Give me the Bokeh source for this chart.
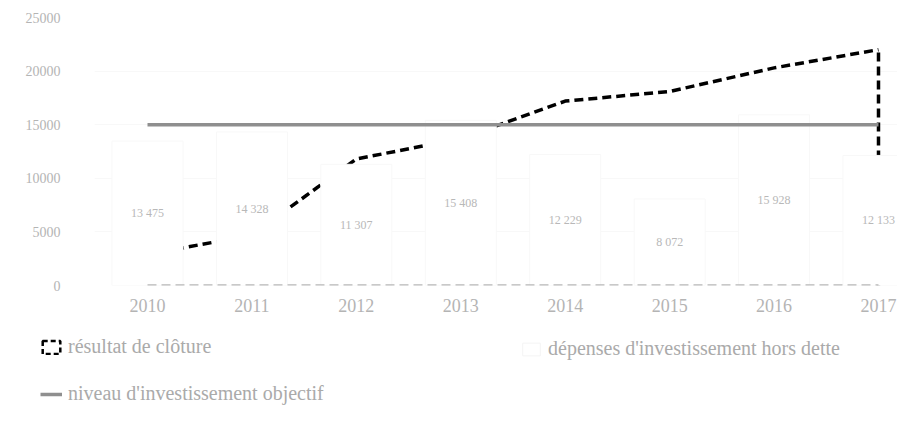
from bokeh.plotting import figure
from bokeh.layouts import column
from bokeh.models import ColumnDataSource, Range1d, FixedTicker, Legend, LegendItem, LabelSet
from bokeh.embed import file_html
from bokeh.resources import INLINE
from bokeh.core.properties import value

# ---- data ----
years = [2010, 2011, 2012, 2013, 2014, 2015, 2016, 2017]
year_labels = ["2010", "2011", "2012", "2013", "2014", "2015", "2016", "2017"]
depenses = [13475, 14328, 11307, 15408, 12229, 8072, 15928, 12133]
depenses_labels = ["13 475", "14 328", "11 307", "15 408", "12 229", "8 072", "15 928", "12 133"]
resultat = [2900, 4700, 11800, 13700, 17200, 18100, 20300, 22000]
objectif = [15000, 15000, 15000, 15000, 15000, 15000, 15000, 15000]
y_ticks = [0, 5000, 10000, 15000, 20000, 25000]
series_names = ["résultat de clôture", "dépenses d'investissement hors dette",
                "niveau d'investissement objectif"]

FONT = "Liberation Serif"
TXT = "#b4b4b4"
DASH = "9 5"

p = figure(width=897, height=318, output_backend="svg", toolbar_location=None,
           x_range=Range1d(2009.4925, 2017.182), y_range=Range1d(0, 25000),
           min_border_left=94, min_border_right=0, min_border_top=17, min_border_bottom=33)
p.frame_align = False
p.outline_line_color = None
p.xgrid.grid_line_color = None
p.ygrid.grid_line_color = "#f8f8f8"
p.ygrid.ticker = FixedTicker(ticks=y_ticks)

p.xaxis.ticker = FixedTicker(ticks=years)
p.xaxis.major_label_overrides = {y: l for y, l in zip(years, year_labels)}
p.yaxis.ticker = FixedTicker(ticks=y_ticks)
for ax in (p.xaxis, p.yaxis):
    ax.axis_line_color = None
    ax.major_tick_line_color = None
    ax.minor_tick_line_color = None
    ax.major_label_text_color = TXT
    ax.major_label_text_font = FONT
p.xaxis.major_label_text_font_size = "18px"
p.yaxis.major_label_text_font_size = "14px"
p.xaxis.major_label_standoff = 7
p.yaxis.major_label_standoff = 28

src = ColumnDataSource(dict(x=years, dep=depenses, lab=depenses_labels,
                            mid=[v / 2 for v in depenses], res=resultat, obj=objectif))

# area "résultat de clôture" outline (drawn behind the columns)
p.line(x="x", y="res", source=src, line_color="black", line_width=3.5, line_dash=DASH)
p.segment(x0=years[-1], y0=0, x1=years[-1], y1=resultat[-1],
          line_color="black", line_width=3.5, line_dash=DASH)

# columns "dépenses d'investissement hors dette"
p.vbar(x="x", top="dep", width=0.68, source=src, fill_color="white", line_color="#f8f8f8")

# bottom edge of the area, showing through along the axis
p.line(x=[years[0], years[-1]], y=[0, 0], line_color="#b8b8b8", line_width=2.5, line_dash=DASH)

# objective line
p.line(x="x", y="obj", source=src, line_color="#8f8f8f", line_width=3.5)

labels = LabelSet(x="x", y="mid", text="lab", source=src, text_align="center",
                  text_baseline="middle", text_font=value(FONT), text_font_size="12px",
                  text_color="#b8b8b8")
p.add_layout(labels)

# ---- legend strip ----
lg = figure(width=897, height=87, output_backend="svg", toolbar_location=None,
            x_range=Range1d(0, 1), y_range=Range1d(0, 1),
            x_axis_type=None, y_axis_type=None,
            min_border_left=0, min_border_right=0, min_border_top=0, min_border_bottom=0)
lg.frame_align = False
lg.outline_line_color = None
lg.xgrid.grid_line_color = None
lg.ygrid.grid_line_color = None
# legend-only renderers, placed outside the visible range
r_res = lg.rect(x=[5], y=[5], width=0.1, height=0.1, fill_color="white",
                line_color="black", line_width=2.5, line_dash="5 3")
r_dep = lg.vbar(x=[5], top=[5], width=0.1, fill_color="white", line_color="#f4f4f4")
r_obj = lg.line(x=[5, 6], y=[5, 5], line_color="#8f8f8f", line_width=3.5)

common = dict(padding=0, margin=0, spacing=24, glyph_width=22, glyph_height=16,
              label_height=20, label_standoff=6, background_fill_alpha=0,
              border_line_color=None, label_text_font=FONT, label_text_font_size="20px",
              label_text_color="#aaaaaa")
leg1 = Legend(items=[LegendItem(label=series_names[0], renderers=[r_res]),
                     LegendItem(label=series_names[2], renderers=[r_obj])],
              location=(40, 0), orientation="vertical", **common)
leg2 = Legend(items=[LegendItem(label=series_names[1], renderers=[r_dep])],
              location=(520, 45), orientation="vertical", **common)
lg.add_layout(leg1)
lg.add_layout(leg2)

open("out.html", "w").write(file_html(column(p, lg, spacing=0), INLINE))
